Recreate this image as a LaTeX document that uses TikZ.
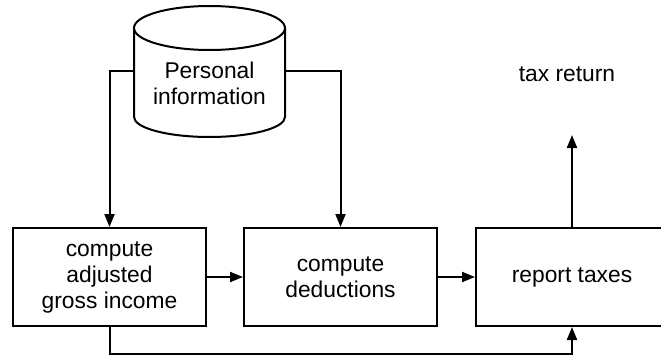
\documentclass[tikz,border=0pt]{standalone}
\usepackage{fontspec}
\setmainfont{Liberation Sans}
\usetikzlibrary{arrows.meta}
\begin{document}
\begin{tikzpicture}[x=1pt,y=1pt,
  line width=2pt,
  every node/.style={font=\fontsize{22.8}{26}\selectfont, align=center},
  procbox/.style={draw, rectangle, line width=2pt, minimum width=193pt, minimum height=98pt, inner sep=0pt},
  arr/.style={line width=2pt, -{Triangle[length=13pt,width=10pt]}}
]
\clip (0,0) rectangle (661,-361);
\useasboundingbox (0,0) rectangle (661,-361);
% cylinder
\filldraw[fill=white, line width=2pt] (134,-28) -- (134,-117) arc[start angle=180,end angle=360,x radius=75.5,y radius=20] -- (285,-28);
\draw[fill=white, line width=2pt] (209.5,-28) ellipse[x radius=75.5,y radius=22];
\node[minimum width=151pt, minimum height=89pt, inner sep=0pt] (cyl) at (209.5,-71) {};
\node (pitext) at (209.5,-83) {Personal\\information};
% boxes
\node[procbox] (b1) at (109.5,-277) {compute\\adjusted\\gross income};
\node[procbox] (b2) at (340.5,-277) {compute\\deductions};
\node[procbox, minimum width=192pt] (b3) at (572,-277) {report taxes};
\node (tr) at (567,-74) {tax return};
\coordinate (tip) at (572,-135);
% connectors
\draw[arr] (cyl.west) -| (b1.north);
\draw[arr] (cyl.east) -| (b2.north);
\draw[arr] (b1.east) -- (b2.west);
\draw[arr] (b2.east) -- (b3.west);
\draw[arr] (b1.south) -- ++(0,-26.5) -| (b3.south);
\draw[arr] (b3.north) -- (tip);
\end{tikzpicture}
\end{document}
